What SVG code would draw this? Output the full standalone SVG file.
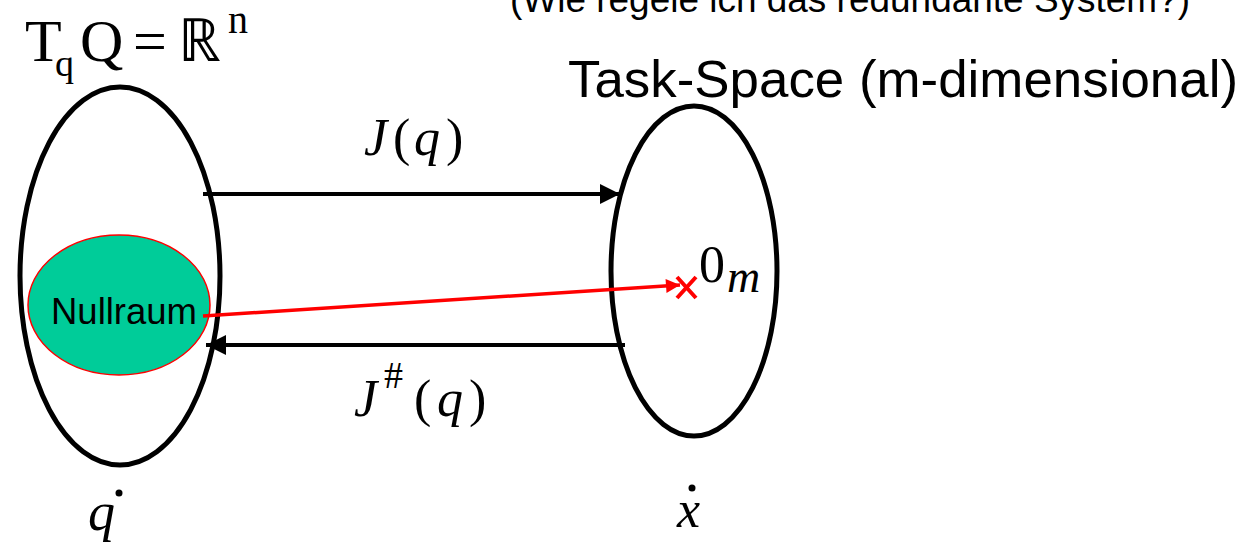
<svg xmlns="http://www.w3.org/2000/svg" width="1250" height="542" viewBox="0 0 1250 542">
<style>
.sans{font-family:"Liberation Sans",Arial,sans-serif;fill:#000}
.serif{font-family:"Liberation Serif","Times New Roman",serif;fill:#000}
.it{font-style:italic}
.big{fill:none;stroke:#000;stroke-width:5}
.arr{stroke:#000;stroke-width:4;fill:none}
</style>
<defs>
<marker id="ah" viewBox="0 0 10 10" refX="10" refY="5" markerWidth="7" markerHeight="5" markerUnits="strokeWidth" orient="auto">
<path d="M0,0 L10,5 L0,10 z" fill="#000"/>
</marker>
<marker id="ahr" viewBox="0 0 10 10" refX="10" refY="5" markerWidth="5" markerHeight="4" markerUnits="strokeWidth" orient="auto">
<path d="M0,0 L10,5 L0,10 z" fill="#f00"/>
</marker>
</defs>
<text class="sans" x="510" y="12" font-size="36" textLength="680" lengthAdjust="spacingAndGlyphs">(Wie regele ich das redundante System?)</text>
<g id="title-left">
<text class="serif" font-size="60"><tspan x="25" y="61">T</tspan><tspan x="55" y="76" font-size="38">q</tspan><tspan x="80" y="61">Q</tspan><tspan x="133" y="61">=</tspan><tspan x="178" y="61">ℝ</tspan><tspan x="228" y="33" font-size="40">n</tspan></text>
</g>
<g id="title-right">
<text class="sans" x="568" y="97" font-size="52" textLength="670" lengthAdjust="spacingAndGlyphs">Task-Space (m-dimensional)</text>
</g>
<g id="joint-space">
<ellipse class="big" cx="120" cy="276" rx="100" ry="189"/>
</g>
<g id="nullraum">
<ellipse cx="119" cy="305" rx="91" ry="70" fill="#00CC99" stroke="#f00" stroke-width="1.5"/>
<text class="sans" x="51" y="324" font-size="36" textLength="146" lengthAdjust="spacingAndGlyphs">Nullraum</text>
</g>
<g id="task-space">
<ellipse class="big" cx="694" cy="271" rx="83" ry="165"/>
</g>
<g id="zero">
<text class="serif" x="699" y="282" font-size="52">0</text>
<text class="serif it" x="727" y="292" font-size="46">m</text>
</g>
<g id="connectors">
<line class="arr" x1="203" y1="194" x2="620" y2="194" marker-end="url(#ah)"/>
<line class="arr" x1="625" y1="345" x2="206" y2="345" marker-end="url(#ah)"/>
<line x1="203" y1="316" x2="680" y2="285" stroke="#f00" stroke-width="3.5" marker-end="url(#ahr)"/>
<path d="M677,277 L696,298 M677,298 L696,277" stroke="#f00" stroke-width="4" fill="none"/>
</g>
<g id="labels">
<text class="serif" font-size="52"><tspan class="it" x="364" y="155">J</tspan><tspan x="393" y="155">(</tspan><tspan class="it" x="414" y="155">q</tspan><tspan x="446" y="155">)</tspan></text>
<text class="serif" font-size="52"><tspan class="it" x="354" y="416">J</tspan><tspan x="384" y="388" font-size="38">#</tspan><tspan x="414" y="416">(</tspan><tspan class="it" x="437" y="416">q</tspan><tspan x="469" y="416">)</tspan></text>
<text class="serif it" x="88" y="530" font-size="54">q</text>
<circle cx="119" cy="493" r="3.5" fill="#000"/>
<text class="serif it" x="677" y="527" font-size="52">x</text>
<circle cx="692" cy="488" r="3.5" fill="#000"/>
</g>
</svg>
